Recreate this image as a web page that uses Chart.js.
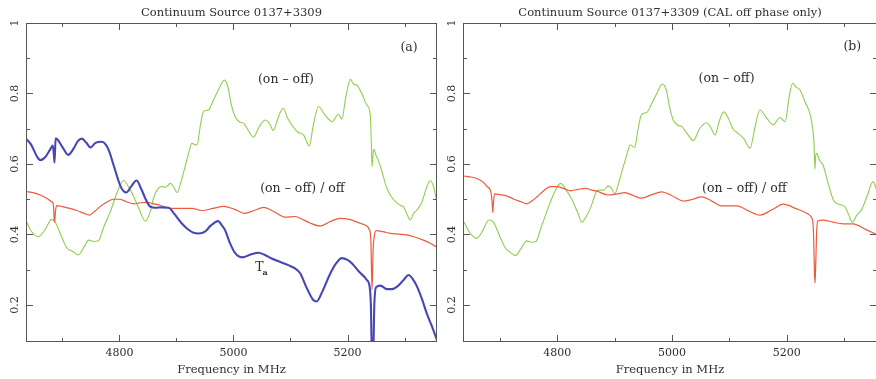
<!DOCTYPE html>
<html><head><meta charset="utf-8">
<script src="https://cdn.jsdelivr.net/npm/chart.js@4.4.1/dist/chart.umd.min.js"></script>
<style>
html,body{margin:0;padding:0;background:#fff;overflow:hidden;width:876px;height:379px;}
canvas{position:absolute;top:0;}
#ca{left:0;}
#cb{left:437px;}
</style></head><body>
<canvas id="ca" width="440" height="379"></canvas>
<canvas id="cb" width="441" height="379"></canvas>
<script>
// ---------- axis ranges and ticks ----------
const X_MIN = 4636, X_MAX = 5357;
const Y_MIN = 0.095, Y_MAX = 1.0;
const xLabelTicks = [4800, 5000, 5200];
const xMinorTicks = [4700, 4900, 5100, 5300];
const yMajorTicks = [0.2, 0.4, 0.6, 0.8, 1.0];
const yTickLabels = ['0.2', '0.4', '0.6', '0.8', '1'];
const yMinorTicks = [0.3, 0.5, 0.7, 0.9];

// ---------- panel (a) ----------
const aOnOffFreq = [4636,4645,4658,4670,4681,4687,4698,4708,4718,4728,4738,4746,4755,4763,4772,4784,4796,4807,4816,4825,4835,4845,4855,4860,4868,4874,4881,4889,4895,4901,4908,4915,4922,4927,4932,4936,4942,4947,4952,4956,4965,4975,4984,4990,4996,5003,5010,5018,5026,5035,5045,5056,5063,5070,5078,5087,5095,5105,5113,5123,5133,5140,5149,5160,5168,5173,5184,5190,5197,5205,5211,5216,5225,5234,5240,5242,5243,5245,5246,5250,5254,5262,5269,5278,5287,5293,5298,5305,5310,5316,5322,5330,5338,5345,5351,5357];
const aOnOffVal = [0.44,0.41,0.394,0.415,0.443,0.436,0.395,0.361,0.352,0.342,0.365,0.384,0.38,0.382,0.42,0.465,0.52,0.553,0.535,0.507,0.47,0.438,0.47,0.505,0.531,0.536,0.534,0.545,0.535,0.519,0.55,0.592,0.635,0.659,0.655,0.654,0.71,0.748,0.752,0.753,0.782,0.815,0.838,0.82,0.77,0.734,0.72,0.715,0.695,0.676,0.705,0.725,0.715,0.695,0.73,0.758,0.73,0.705,0.69,0.682,0.651,0.71,0.763,0.74,0.725,0.72,0.741,0.727,0.79,0.84,0.826,0.824,0.8,0.767,0.739,0.65,0.592,0.63,0.642,0.625,0.611,0.57,0.531,0.505,0.489,0.482,0.479,0.455,0.441,0.46,0.47,0.49,0.53,0.553,0.535,0.49];

const aRatioFreq = [4636,4650,4661,4672,4681,4684,4686,4688,4690,4700,4713,4725,4738,4747,4756,4766,4778,4789,4800,4812,4825,4837,4848,4860,4871,4882,4892,4910,4927,4945,4964,4983,5001,5020,5036,5053,5072,5091,5108,5117,5135,5152,5170,5187,5205,5222,5233,5238,5241,5243,5245,5247,5250,5262,5275,5290,5304,5318,5333,5345,5357];
const aRatioVal = [0.522,0.518,0.512,0.503,0.493,0.485,0.434,0.47,0.482,0.479,0.474,0.468,0.46,0.455,0.465,0.479,0.492,0.5,0.5,0.493,0.487,0.49,0.491,0.487,0.483,0.477,0.474,0.474,0.474,0.468,0.474,0.48,0.472,0.46,0.468,0.477,0.464,0.449,0.451,0.446,0.432,0.424,0.437,0.446,0.442,0.432,0.425,0.415,0.384,0.243,0.36,0.395,0.411,0.408,0.403,0.401,0.399,0.393,0.384,0.375,0.364];

const aTaFreq = [4636,4645,4655,4661,4670,4678,4683,4685,4686,4688,4692,4700,4710,4720,4727,4734,4742,4749,4758,4769,4776,4781,4790,4801,4806,4812,4820,4830,4838,4846,4854,4863,4874,4886,4897,4909,4920,4930,4939,4950,4960,4973,4980,4985,4994,5003,5015,5030,5044,5055,5067,5082,5096,5108,5117,5128,5140,5146,5155,5170,5180,5190,5200,5208,5220,5234,5239,5241,5243,5245,5247,5250,5258,5269,5278,5287,5298,5307,5314,5322,5331,5339,5348,5357];
const aTaVal = [0.672,0.655,0.622,0.611,0.62,0.64,0.652,0.625,0.604,0.673,0.668,0.648,0.626,0.645,0.665,0.672,0.66,0.647,0.66,0.663,0.655,0.64,0.595,0.54,0.525,0.519,0.535,0.553,0.53,0.5,0.479,0.476,0.477,0.476,0.457,0.432,0.415,0.405,0.403,0.408,0.425,0.438,0.425,0.413,0.375,0.347,0.335,0.343,0.348,0.342,0.332,0.322,0.313,0.304,0.29,0.25,0.214,0.21,0.235,0.29,0.318,0.333,0.328,0.318,0.295,0.271,0.25,0.2,0.05,0.05,0.2,0.25,0.255,0.245,0.245,0.252,0.27,0.285,0.275,0.252,0.215,0.176,0.14,0.1];

// ---------- panel (b) ----------
const bOnOffFreq = [4638,4648,4660,4670,4681,4689,4700,4710,4718,4727,4737,4747,4755,4763,4772,4782,4794,4806,4816,4826,4835,4843,4852,4860,4869,4872,4881,4889,4895,4900,4907,4915,4922,4927,4935,4941,4947,4956,4965,4975,4983,4990,4996,5002,5010,5017,5027,5037,5048,5060,5067,5075,5082,5090,5098,5106,5115,5125,5136,5144,5153,5165,5176,5188,5197,5204,5210,5216,5223,5232,5240,5245,5247,5249,5250,5252,5257,5263,5272,5281,5292,5301,5308,5314,5322,5330,5340,5350,5358];
const bOnOffVal = [0.435,0.405,0.389,0.41,0.441,0.435,0.395,0.361,0.35,0.34,0.36,0.382,0.378,0.38,0.42,0.465,0.515,0.545,0.525,0.498,0.465,0.435,0.455,0.484,0.524,0.526,0.526,0.538,0.53,0.515,0.545,0.592,0.63,0.654,0.647,0.7,0.741,0.746,0.772,0.805,0.827,0.81,0.76,0.725,0.71,0.706,0.685,0.666,0.7,0.717,0.705,0.682,0.72,0.748,0.73,0.7,0.687,0.672,0.645,0.7,0.753,0.73,0.711,0.732,0.72,0.79,0.829,0.818,0.81,0.775,0.744,0.7,0.668,0.585,0.62,0.63,0.61,0.597,0.545,0.498,0.485,0.479,0.455,0.435,0.455,0.47,0.51,0.55,0.517];

const bRatioFreq = [4638,4650,4660,4670,4678,4685,4687,4688,4689,4691,4700,4713,4725,4737,4747,4756,4765,4777,4788,4800,4812,4823,4836,4849,4860,4869,4889,4904,4918,4933,4947,4965,4982,5000,5020,5036,5052,5070,5086,5104,5113,5133,5153,5174,5194,5215,5237,5243,5246,5248,5249,5250,5252,5254,5263,5280,5298,5315,5339,5358];
const bRatioVal = [0.566,0.563,0.559,0.55,0.536,0.517,0.485,0.462,0.49,0.515,0.513,0.509,0.5,0.493,0.487,0.495,0.507,0.525,0.536,0.536,0.53,0.524,0.528,0.531,0.526,0.523,0.512,0.515,0.519,0.51,0.503,0.513,0.521,0.51,0.495,0.5,0.507,0.494,0.481,0.481,0.481,0.467,0.455,0.47,0.486,0.474,0.458,0.448,0.42,0.3,0.262,0.3,0.41,0.438,0.441,0.435,0.43,0.43,0.413,0.399];

// ---------- text ----------
const titleA = 'Continuum Source 0137+3309';
const titleB = 'Continuum Source 0137+3309 (CAL off phase only)';
const xTitle = 'Frequency in MHz';

const FONT = '"DejaVu Serif", serif';
const TEXT = '#2e2e2e';
const GREEN = '#8fcf4c', RED = '#f0583c', BLUE = '#4747b4';

function pts(f, v) { return f.map((x, i) => ({ x: x, y: v[i] })); }

const decor = {
  id: 'decor',
  afterDatasetsDraw(chart, args, opts) {
    const { ctx, chartArea: a, scales: { x, y } } = chart;
    ctx.save();
    ctx.strokeStyle = '#555';
    ctx.lineWidth = 1;
    ctx.strokeRect(a.left + 0.5, a.top + 0.5, a.right - a.left - 1, a.bottom - a.top - 1);
    ctx.beginPath();
    const xt = (v, len) => {
      const p = Math.round(x.getPixelForValue(v)) + 0.5;
      ctx.moveTo(p, a.bottom); ctx.lineTo(p, a.bottom - len);
      ctx.moveTo(p, a.top); ctx.lineTo(p, a.top + len);
    };
    const yt = (v, len) => {
      const p = Math.round(y.getPixelForValue(v)) + 0.5;
      ctx.moveTo(a.left, p); ctx.lineTo(a.left + len, p);
      ctx.moveTo(a.right, p); ctx.lineTo(a.right - len, p);
    };
    xLabelTicks.forEach(v => xt(v, 7));
    xMinorTicks.forEach(v => xt(v, 4));
    yMajorTicks.forEach(v => { if (v < Y_MAX) yt(v, 7); });
    yMinorTicks.forEach(v => yt(v, 4));
    ctx.stroke();

    ctx.fillStyle = TEXT;
    ctx.textAlign = 'center';
    ctx.textBaseline = 'middle';
    // y labels, rotated
    ctx.font = '11px ' + FONT;
    yMajorTicks.forEach((v, i) => {
      ctx.save();
      ctx.translate(a.left - 11, y.getPixelForValue(v));
      ctx.rotate(-Math.PI / 2);
      ctx.fillText(yTickLabels[i], 0, 0);
      ctx.restore();
    });
    // title
    ctx.font = '11.5px ' + FONT;
    ctx.fillText(opts.title, (a.left + a.right) / 2, 13);
    // notes
    const nf = '12.5px ' + FONT;
    ctx.font = nf;
    opts.notes.forEach(n => {
      const px = x.getPixelForValue(n.f), py = y.getPixelForValue(n.v);
      if (n.sub) {
        ctx.textAlign = 'left';
        ctx.fillText(n.text, px, py);
        const w = ctx.measureText(n.text).width;
        ctx.font = 'bold 8px ' + FONT;
        ctx.fillText(n.sub, px + w - 1, py + 5);
        ctx.textAlign = 'center';
        ctx.font = nf;
      } else {
        ctx.fillText(n.text, px, py);
      }
    });
    ctx.restore();
  }
};

function makeChart(id, datasets, title, notes, padRight) {
  return new Chart(document.getElementById(id), {
    type: 'line',
    data: { datasets: datasets },
    options: {
      responsive: false, animation: false, devicePixelRatio: 1,
      layout: { padding: { top: 23, right: padRight, left: 0, bottom: 0 } },
      plugins: { legend: { display: false }, tooltip: { enabled: false }, title: { display: false },
                 decor: { title: title, notes: notes } },
      elements: { point: { radius: 0 }, line: { cubicInterpolationMode: 'monotone' } },
      scales: {
        x: {
          type: 'linear', min: X_MIN, max: X_MAX,
          grid: { display: false, drawTicks: false }, border: { display: false },
          afterBuildTicks: s => { s.ticks = xLabelTicks.map(v => ({ value: v })); },
          afterFit: s => { s.height = 37; },
          ticks: { font: { family: FONT, size: 11 }, color: TEXT, padding: 5, autoSkip: false,
                   maxRotation: 0, callback: v => String(v) },
          title: { display: true, text: xTitle, font: { family: FONT, size: 11.5 }, color: TEXT,
                   padding: { top: 0, bottom: 2 } }
        },
        y: {
          type: 'linear', min: Y_MIN, max: Y_MAX,
          grid: { display: false, drawTicks: false }, border: { display: false },
          ticks: { display: false },
          afterFit: s => { s.width = 26; }
        }
      }
    },
    plugins: [decor]
  });
}

makeChart('ca', [
  { data: pts(aTaFreq, aTaVal), borderColor: BLUE, borderWidth: 2.1 },
  { data: pts(aRatioFreq, aRatioVal), borderColor: RED, borderWidth: 1.2 },
  { data: pts(aOnOffFreq, aOnOffVal), borderColor: GREEN, borderWidth: 1.1 }
], titleA, [
  { f: 5308, v: 0.929, text: '(a)' },
  { f: 5092, v: 0.838, text: '(on \u2013 off)' },
  { f: 5121, v: 0.531, text: '(on \u2013 off) / off' },
  { f: 5038, v: 0.305, text: 'T', sub: 'a' }
], 3);

makeChart('cb', [
  { data: pts(bRatioFreq, bRatioVal), borderColor: RED, borderWidth: 1.2 },
  { data: pts(bOnOffFreq, bOnOffVal), borderColor: GREEN, borderWidth: 1.1 }
], titleB, [
  { f: 5314, v: 0.933, text: '(b)' },
  { f: 5095, v: 0.841, text: '(on \u2013 off)' },
  { f: 5126, v: 0.531, text: '(on \u2013 off) / off' }
], 1);
</script>
</body></html>
